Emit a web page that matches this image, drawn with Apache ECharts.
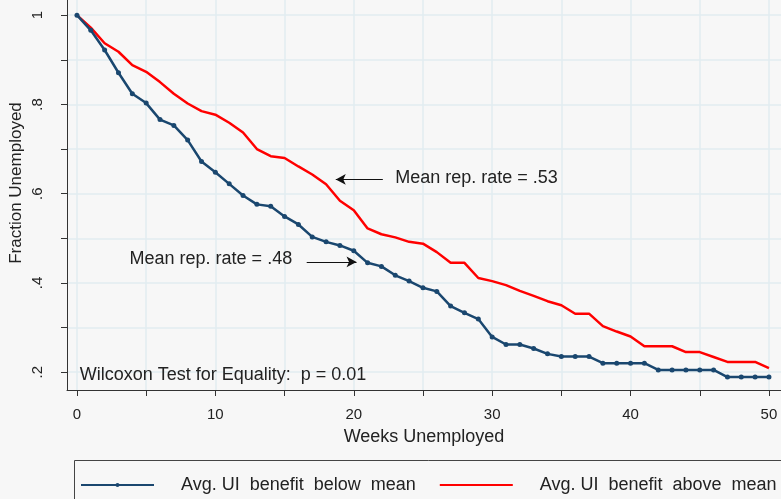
<!DOCTYPE html>
<html>
<head>
<meta charset="utf-8">
<script src="https://cdn.jsdelivr.net/npm/echarts@6/dist/echarts.min.js"></script>
<style>
  html, body { margin: 0; padding: 0; background: #f7f7f7; }
  #chart { width: 781px; height: 499px; }
</style>
</head>
<body>
<div id="chart"></div>
<script>
// weeks since job loss
const weeks = [0, 1, 2, 3, 4, 5, 6, 7, 8, 9, 10, 11, 12, 13, 14, 15, 16, 17, 18, 19, 20,
  21, 22, 23, 24, 25, 26, 27, 28, 29, 30, 31, 32, 33, 34, 35, 36, 37, 38, 39, 40,
  41, 42, 43, 44, 45, 46, 47, 48, 49, 50];

// fraction still unemployed, below-mean benefit group
const belowMean = [1.0, 0.966, 0.922, 0.871, 0.824, 0.803, 0.766, 0.753, 0.720, 0.672, 0.648,
  0.622, 0.596, 0.576, 0.572, 0.549, 0.531, 0.503, 0.492, 0.484, 0.472,
  0.445, 0.437, 0.417, 0.404, 0.389, 0.381, 0.348, 0.333, 0.319, 0.279,
  0.262, 0.262, 0.253, 0.241, 0.235, 0.235, 0.235, 0.220, 0.220, 0.220,
  0.220, 0.205, 0.205, 0.205, 0.205, 0.205, 0.189, 0.189, 0.189, 0.189];

// above-mean benefit group
const aboveMean = [1.0, 0.972, 0.937, 0.918, 0.888, 0.873, 0.850, 0.824, 0.802, 0.785, 0.777,
  0.759, 0.737, 0.700, 0.684, 0.680, 0.661, 0.643, 0.621, 0.584, 0.563,
  0.522, 0.509, 0.502, 0.492, 0.488, 0.469, 0.445, 0.445, 0.411, 0.404,
  0.395, 0.382, 0.371, 0.359, 0.350, 0.331, 0.331, 0.303, 0.291, 0.280,
  0.258, 0.258, 0.258, 0.245, 0.245, 0.234, 0.223, 0.223, 0.223, 0.209];

const xTicks = [0, 5, 10, 15, 20, 25, 30, 35, 40, 45, 50];
const xLabels = [0, 10, 20, 30, 40, 50];
const yTicks = [0.2, 0.3, 0.4, 0.5, 0.6, 0.7, 0.8, 0.9, 1.0];
const yLabels = [0.2, 0.4, 0.6, 0.8, 1.0];

const seriesNames = ['Avg. UI  benefit  below  mean', 'Avg. UI  benefit  above  mean'];

const FONT = 'Liberation Sans, Arial, sans-serif';
const BLUE = '#1a476f';
const RED = '#ff0000';
const GRIDC = '#e2edf1';

const chart = echarts.init(document.getElementById('chart'));

chart.setOption({
  backgroundColor: '#f7f7f7',
  animation: false,
  textStyle: { fontFamily: FONT, color: '#222' },
  grid: { left: 67, right: 0, top: 0, bottom: 109, containLabel: false, outerBoundsMode: 'none' },
  // legend frame runs off the right/bottom edge like the original
  graphic: [{
    type: 'rect',
    left: 72,
    top: 458,
    shape: { width: 760, height: 60 },
    style: { fill: 'none', stroke: '#444', lineWidth: 1 },
    silent: true
  }],
  xAxis: {
    type: 'value',
    min: -0.72,
    max: 50.87,
    name: 'Weeks Unemployed',
    nameLocation: 'middle',
    nameGap: 38,
    nameTextStyle: { fontSize: 18, color: '#222', fontFamily: FONT },
    axisLine: { show: true, onZero: false, lineStyle: { color: '#333', width: 1 } },
    axisTick: { show: true, customValues: xTicks, length: 6, lineStyle: { color: '#333' } },
    axisLabel: { customValues: xLabels, fontSize: 15, margin: 17, color: '#222', fontFamily: FONT },
    splitLine: { show: true, lineStyle: { color: GRIDC, width: 1.5 } }
  },
  yAxis: {
    type: 'value',
    min: 0.16,
    max: 1.034,
    name: 'Fraction Unemployed',
    nameLocation: 'middle',
    nameGap: 42,
    nameMoveOverlap: false,
    nameRotate: 90,
    nameTextStyle: { fontSize: 17, color: '#222', fontFamily: FONT, padding: [0, 0, 0, 24] },
    axisLine: { show: true, onZero: false, lineStyle: { color: '#333', width: 1 } },
    axisTick: { show: true, customValues: yTicks, length: 6, lineStyle: { color: '#333' } },
    axisLabel: {
      customValues: yLabels,
      rotate: 90,
      fontSize: 15,
      margin: 22,
      color: '#222',
      fontFamily: FONT,
      formatter: v => (Math.abs(v - 1) < 1e-6 ? '1' : '.' + Math.round(v * 10))
    },
    splitLine: { show: true, lineStyle: { color: GRIDC, width: 1.5 } }
  },
  legend: {
    left: 72,
    top: 461,
    orient: 'horizontal',
    padding: [15, 0, 10, 8],
    itemWidth: 73,
    itemHeight: 5,
    itemGap: 23,
    textStyle: { fontSize: 18, color: '#222', fontFamily: FONT, padding: [0, 0, 0, 22] },
    data: [
      { name: seriesNames[0] },
      { name: seriesNames[1], itemStyle: { opacity: 0 } }
    ]
  },
  series: [
    {
      name: seriesNames[0],
      type: 'line',
      data: weeks.map((w, i) => [w, belowMean[i]]),
      symbol: 'circle',
      symbolSize: 5,
      itemStyle: { color: BLUE },
      lineStyle: { color: BLUE, width: 2.5 },
      z: 3,
      markLine: {
        silent: true,
        symbol: ['none', 'arrow'],
        symbolSize: [8, 10],
        label: { show: false },
        lineStyle: { color: '#111', width: 1.2, type: 'solid' },
        data: [
          [{ coord: [22.1, 0.632] }, { coord: [18.7, 0.632] }],
          [{ coord: [16.6, 0.447] }, { coord: [20.2, 0.447] }]
        ]
      },
      markPoint: {
        silent: true,
        symbol: 'circle',
        symbolSize: 0,
        label: {
          show: true,
          position: 'right',
          distance: 0,
          fontSize: 18,
          color: '#222',
          fontFamily: FONT,
          formatter: p => p.name
        },
        data: [
          { name: 'Mean rep. rate = .53', coord: [23.0, 0.634] },
          { name: 'Mean rep. rate = .48', coord: [3.8, 0.453] },
          { name: 'Wilcoxon Test for Equality:  p = 0.01', coord: [0.2, 0.193] }
        ]
      }
    },
    {
      name: seriesNames[1],
      type: 'line',
      data: weeks.map((w, i) => [w, aboveMean[i]]),
      symbol: 'none',
      itemStyle: { color: RED },
      lineStyle: { color: RED, width: 2.5 },
      z: 2
    }
  ]
});
</script>
</body>
</html>
